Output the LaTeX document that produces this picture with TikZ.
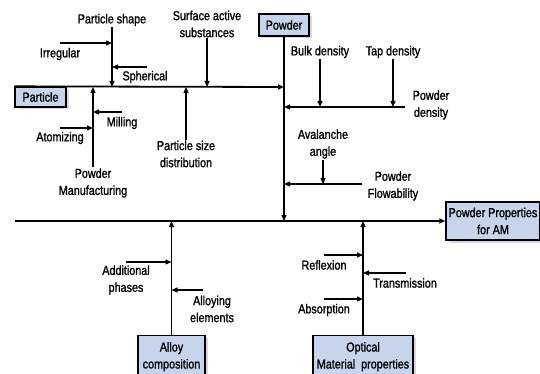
\documentclass[tikz,border=0pt]{standalone}
\usepackage{fontspec}
\setmainfont{Liberation Sans}[FakeStretch=0.83, FakeBold=1.2]
\usetikzlibrary{arrows.meta, positioning, calc, shadows}
\definecolor{colBox}{RGB}{199, 213, 236}
\definecolor{colShd}{RGB}{170, 180, 200}

\begin{document}
\begin{tikzpicture}[x=1pt, y=-1pt,
    every node/.style={font=\fontsize{13}{17}\selectfont, align=center, inner sep=1pt},
    box/.style={draw, line width=1.3pt, fill=colBox, inner sep=2pt,
        drop shadow={fill=colShd, shadow xshift=2.5pt, shadow yshift=-2.5pt}},
    arr/.style={-{Triangle[length=6pt, width=5pt]}, line width=1.2pt},
    spine/.style={arr, line width=1.8pt}]
    \useasboundingbox (0, 0) rectangle (540, 374);

    % Kotak utama
    \node[box, minimum width=51pt, minimum height=20pt] (part) at (40.5, 97) {Particle};
    \node[box, minimum width=50pt, minimum height=22pt] (pow) at (284, 25) {Powder};
    \node[box, minimum width=94pt, minimum height=38pt] (ppam) at (493, 221) {Powder Properties\\for AM};
    \node[box, anchor=north, minimum width=67pt, minimum height=42pt] (alloy) at (171.5, 335) {Alloy\\composition};
    \node[box, anchor=north, minimum width=100pt, minimum height=42pt] (optic) at (363, 335) {Optical\\Material\ \ properties};

    % Tulang utama
    \coordinate (s0) at (15, 221);
    \coordinate (powB) at (284, 87);
    \coordinate (powM) at (284, 221);
    \draw[spine] (s0) -- (ppam.west);
    \draw[spine] (part.north west) -- (powB);
    \draw[arr] (pow.south) -- (powM);

    % Particle: bentuk partikel
    \node (shape) at (112, 20) {Particle shape};
    \coordinate (shB) at (112, 87);
    \draw[arr] (shape.south) -- (shB);
    \node (irr) at (60, 54) {Irregular};
    \coordinate (irrS) at (60, 43);
    \draw[arr] (irrS) -- (irrS -| shB);
    \node (sph) at (145, 77) {Spherical};
    \coordinate (sphS) at (147, 67);
    \draw[arr] (sphS) -- (sphS -| shB);

    % Particle: zat aktif & distribusi ukuran
    \node (surf) at (207, 24) {Surface active\\substances};
    \draw[arr] (surf.south) -- (surf.south |- shB);
    \node (psd) at (186, 154) {Particle size\\distribution};
    \draw[arr] (psd.north) -- (psd.north |- shB);

    % Particle: pembuatan serbuk
    \node (manu) at (93, 183) {Powder\\Manufacturing};
    \draw[arr] (manu.north) -- (manu.north |- shB);
    \coordinate (manB) at (93, 87);
    \node (mill) at (122, 123) {Milling};
    \coordinate (millS) at (122, 112);
    \draw[arr] (millS) -- (millS -| manB);
    \node (atom) at (60, 138) {Atomizing};
    \coordinate (atomS) at (60, 128);
    \draw[arr] (atomS) -- (atomS -| manB);

    % Powder: densitas
    \node (pden) at (431, 105) {Powder\\density};
    \coordinate (denS) at (405, 107);
    \draw[arr] (denS) -- (denS -| powB);
    \node (bulk) at (320, 52) {Bulk density};
    \draw[arr] (bulk.south) -- (bulk.south |- denS);
    \node (tap) at (393, 52) {Tap density};
    \draw[arr] (tap.south) -- (tap.south |- denS);

    % Powder: kemampuan alir
    \node (flow) at (393, 186) {Powder\\Flowability};
    \coordinate (flowS) at (362, 184);
    \draw[arr] (flowS) -- (flowS -| powB);
    \node (aval) at (323, 144) {Avalanche\\angle};
    \draw[arr] (aval.south) -- (aval.south |- flowS);

    % Alloy composition
    \coordinate (allM) at (171.5, 221);
    \draw[arr] (alloy.north) -- (allM);
    \node (addph) at (126, 280) {Additional\\phases};
    \coordinate (addS) at (126, 262);
    \draw[arr] (addS) -- (addS -| allM);
    \node (allel) at (212, 309) {Alloying\\elements};
    \coordinate (allS) at (203, 290);
    \draw[arr] (allS) -- (allS -| allM);

    % Optical material properties
    \coordinate (optM) at (363, 221);
    \draw[arr] (optic.north) -- (optM);
    \node (refl) at (324, 265) {Reflexion};
    \coordinate (reflS) at (324, 255);
    \draw[arr] (reflS) -- (reflS -| optM);
    \node (trans) at (405, 283) {Transmission};
    \coordinate (transS) at (406, 273);
    \draw[arr] (transS) -- (transS -| optM);
    \node (absorb) at (324, 310) {Absorption};
    \coordinate (absS) at (324, 299);
    \draw[arr] (absS) -- (absS -| optM);
\end{tikzpicture}
\end{document}
